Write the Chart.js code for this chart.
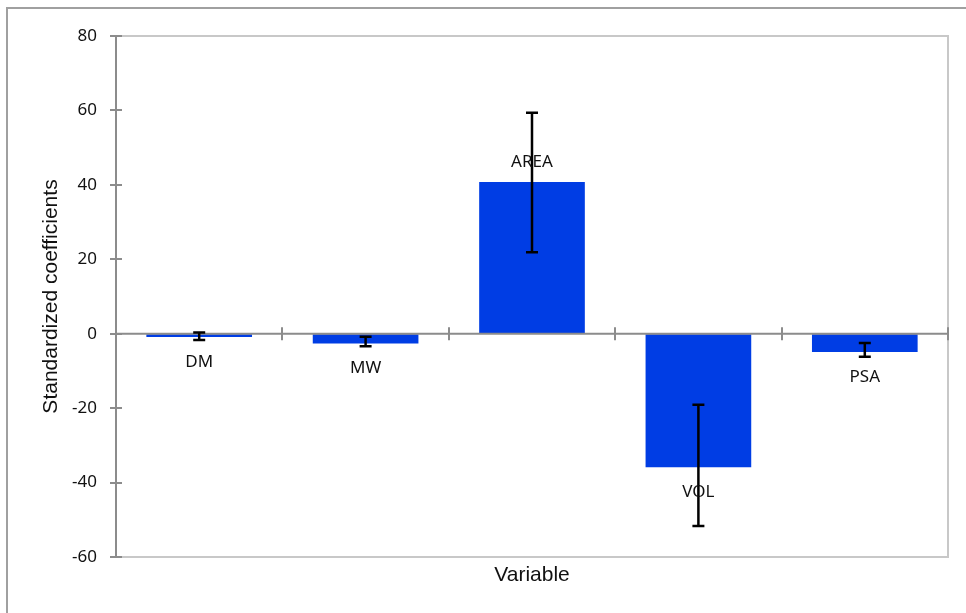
<!DOCTYPE html>
<html>
<head>
<meta charset="utf-8">
<script src="https://cdn.jsdelivr.net/npm/chart.js@4/dist/chart.umd.min.js"></script>
<style>
    body { margin: 0; background: #fff; overflow: hidden; }
    #frame { position: absolute; left: 6px; top: 7px; width: 1000px; height: 700px;
             border-left: 2px solid #a0a0a0; border-top: 2px solid #a0a0a0; }
    #wrap { position: absolute; left: 0; top: 0; width: 966px; height: 613px; }
</style>
</head>
<body>
<div id="frame"></div>
<div id="wrap"><canvas id="coefChart" width="966" height="613"></canvas></div>
<script>
// Data
const categories = ['DM', 'MW', 'AREA', 'VOL', 'PSA'];
const coefValues = [-0.9, -2.6, 40.8, -35.9, -4.9];
const errLow = [-1.7, -3.4, 21.9, -51.7, -6.2];
const errHigh = [0.3, -0.8, 59.4, -19.1, -2.5];
const yTicks = [-60, -40, -20, 0, 20, 40, 60, 80];

const AXIS_GRAY = '#8c8c8c';

// light grey plot border (top, right, bottom)
const plotFrame = {
    id: 'plotFrame',
    beforeDraw(chart) {
        const { ctx, chartArea: a } = chart;
        ctx.save();
        ctx.strokeStyle = '#c8c8c8';
        ctx.lineWidth = 2;
        ctx.strokeRect(a.left, a.top, a.right - a.left, a.bottom - a.top);
        ctx.restore();
    }
};

// zero line with cross ticks, y cross ticks, error bars and labels
const overlay = {
    id: 'overlay',
    afterDatasetsDraw(chart) {
        const { ctx, chartArea: a } = chart;
        const x = chart.scales.x, y = chart.scales.y;
        const y0 = y.getPixelForValue(0);
        ctx.save();
        ctx.strokeStyle = AXIS_GRAY;
        ctx.lineWidth = 2;
        ctx.beginPath();
        ctx.moveTo(a.left, y0);
        ctx.lineTo(a.right, y0);
        for (let i = 0; i <= categories.length; i++) {
            const px = Math.round(x.getPixelForValue(i - 0.5));
            ctx.moveTo(px, y0 - 6.5);
            ctx.lineTo(px, y0 + 6.5);
        }
        yTicks.forEach(v => {
            const py = Math.round(y.getPixelForValue(v));
            ctx.moveTo(a.left - 6, py);
            ctx.lineTo(a.left + 6, py);
        });
        ctx.stroke();

        // error bars
        ctx.strokeStyle = '#000';
        ctx.lineWidth = 2.5;
        ctx.beginPath();
        categories.forEach((c, i) => {
            const px = x.getPixelForValue(i);
            const lo = y.getPixelForValue(errLow[i]);
            const hi = y.getPixelForValue(errHigh[i]);
            ctx.moveTo(px, lo); ctx.lineTo(px, hi);
            ctx.moveTo(px - 6, lo); ctx.lineTo(px + 6, lo);
            ctx.moveTo(px - 6, hi); ctx.lineTo(px + 6, hi);
        });
        ctx.stroke();

        // category labels at bar ends
        ctx.fillStyle = '#111';
        ctx.font = '17px "Noto Sans"';
        ctx.textAlign = 'center';
        ctx.textBaseline = 'middle';
        const bars = chart.getDatasetMeta(0).data;
        categories.forEach((c, i) => {
            const end = bars[i].y;
            const ly = coefValues[i] >= 0 ? end - 20 : end + 25;
            ctx.fillText(c, bars[i].x, ly);
        });
        ctx.restore();
    }
};

const ctx = document.getElementById('coefChart').getContext('2d');
new Chart(ctx, {
    type: 'bar',
    data: {
        labels: categories,
        datasets: [{
            data: coefValues,
            backgroundColor: '#003de4',
            borderWidth: 0,
            barPercentage: 0.635,
            categoryPercentage: 1
        }]
    },
    options: {
        responsive: false,
        animation: false,
        layout: { padding: { top: 36, right: 18, left: 0, bottom: 0 } },
        plugins: { legend: { display: false }, tooltip: { enabled: false } },
        scales: {
            x: {
                ticks: { display: false },
                grid: { display: false },
                border: { display: false },
                title: {
                    display: true, text: 'Variable', color: '#111',
                    font: { family: 'Liberation Sans', size: 21 },
                    padding: { top: 0, bottom: 25 }
                },
                afterFit: s => { s.height = 56; }
            },
            y: {
                min: -60, max: 80,
                afterBuildTicks: s => { s.ticks = yTicks.map(v => ({ value: v })); },
                ticks: {
                    color: '#111', padding: 19,
                    font: { family: 'Noto Sans', size: 17 }
                },
                grid: { drawOnChartArea: false, drawTicks: false },
                border: { color: AXIS_GRAY, width: 2 },
                title: {
                    display: true, text: 'Standardized coefficients', color: '#111',
                    font: { family: 'Liberation Sans', size: 21 },
                    padding: { top: 39, bottom: 0 }
                },
                afterFit: s => { s.width = 116; }
            }
        }
    },
    plugins: [plotFrame, overlay]
});
</script>
</body>
</html>
